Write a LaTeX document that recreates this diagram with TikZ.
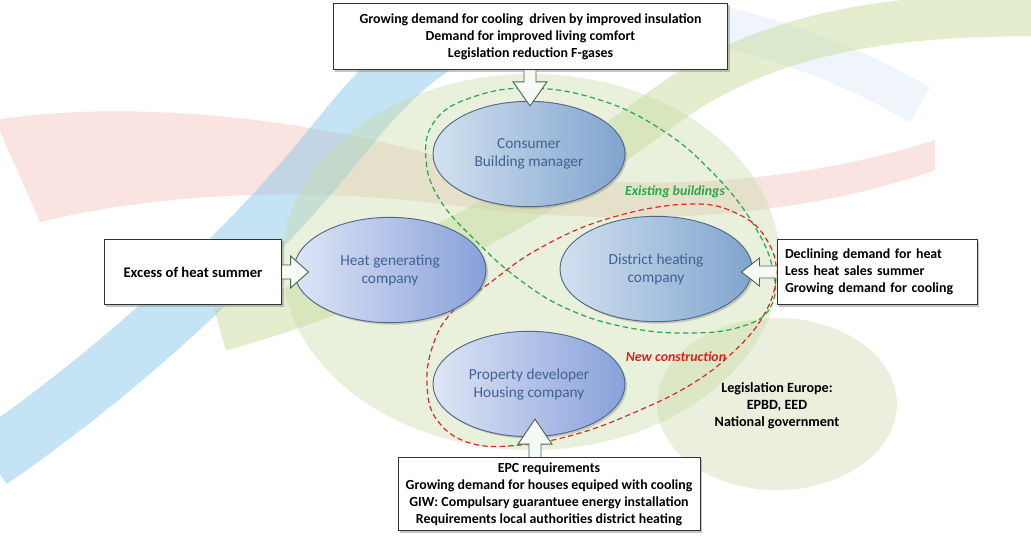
\documentclass[tikz,border=0pt]{standalone}
\usepackage{fontspec}
\setmainfont{Carlito}
\usetikzlibrary{positioning,shapes.geometric,shadows,calc}

\tikzset{
  actor/.style={ellipse, draw={rgb, 255:red, 84; green, 104; blue, 132}, line width=0.7pt,
    left color={rgb, 255:red, 210; green, 225; blue, 240}, right color={rgb, 255:red, 128; green, 164; blue, 206},
    minimum width=144pt, minimum height=79pt, align=center,
    text={rgb, 255:red, 64; green, 98; blue, 144}, font=\fontsize{11.5}{13.5}\selectfont,
    drop shadow={opacity=0.35, shadow xshift=1.5pt, shadow yshift=-1.5pt}},
  lavender/.style={left color={rgb, 255:red, 222; green, 229; blue, 246}, right color={rgb, 255:red, 136; green, 160; blue, 218}},
  infobox/.style={draw={rgb, 255:red, 50; green, 50; blue, 50}, fill=white, line width=0.7pt,
    font=\bfseries\fontsize{10.4}{12.75}\selectfont, align=center, inner sep=0pt,
    drop shadow={opacity=0.45, shadow xshift=1.5pt, shadow yshift=-1.5pt}},
  blockarrow/.style={draw={rgb, 255:red, 80; green, 100; blue, 85}, line width=0.7pt,
    fill={rgb, 255:red, 246; green, 250; blue, 246}, line join=miter},
  grouploop/.style={dashed, dash pattern=on 4pt off 2.5pt, line width=0.9pt},
  grouplabel/.style={font=\bfseries\itshape\fontsize{10.4}{12}\selectfont},
  band/.style={line width=#1, line cap=butt},
}

\begin{document}
\begin{tikzpicture}[x=0.75pt,y=0.75pt,yscale=-1,xscale=1]
\useasboundingbox (0,0) rectangle (1031,540);
\fill[white] (0,0) rectangle (1031,540);

% background bands
\fill[fill={rgb, 255:red, 236; green, 160; blue, 150}, fill opacity=0.28] (-5,120) .. controls (120,100) and (300,115) .. (450,160) .. controls (600,195) and (780,190) .. (935,140) -- (935,170) .. controls (780,225) and (600,225) .. (450,205) .. controls (300,185) and (150,195) .. (40,222) -- cycle;
\draw[band=44pt, draw={rgb, 255:red, 125; green, 195; blue, 235}, draw opacity=0.45] (-10,460) .. controls (120,370) and (240,260) .. (330,150) .. controls (370,100) and (400,65) .. (450,35);
\draw[band=30pt, draw={rgb, 255:red, 150; green, 190; blue, 230}, draw opacity=0.15] (700,22) .. controls (790,40) and (860,70) .. (920,105);
\draw[band=32pt, draw={rgb, 255:red, 180; green, 208; blue, 120}, draw opacity=0.35] (220,330) .. controls (400,280) and (540,200) .. (660,110) .. controls (760,35) and (880,15) .. (1031,15);

% green areas
\fill[fill={rgb, 255:red, 200; green, 218; blue, 166}, fill opacity=0.4] (531,262) ellipse [x radius=249, y radius=188];
\fill[fill={rgb, 255:red, 200; green, 218; blue, 166}, fill opacity=0.38] (777,404) ellipse [x radius=120, y radius=86];

% groups
\draw[grouploop, draw={rgb, 255:red, 40; green, 168; blue, 72}] plot[smooth cycle, tension=0.7] coordinates {(470,98) (530,88) (600,100) (662,130) (712,172) (752,222) (773,270) (770,308) (740,327) (690,333) (630,328) (570,310) (520,280) (475,240) (440,200) (426,160) (434,122)};
\draw[grouploop, draw={rgb, 255:red, 222; green, 42; blue, 36}] plot[smooth cycle, tension=0.7] coordinates {(690,204) (740,215) (768,242) (776,278) (762,318) (730,355) (690,385) (640,410) (580,433) (520,445) (470,443) (437,420) (427,385) (433,345) (452,312) (487,285) (540,248) (610,218)};

% actors
\node[actor] (consumer) at (529,154) {Consumer\\Building manager};
\node[actor, lavender] (heatco) at (390,270) {Heat generating\\company};
\node[actor] (district) at (656,269) {District heating\\company};
\node[actor, lavender] (developer) at (529,384) {Property developer\\Housing company};

% labels of the groups
\node[grouplabel, text={rgb, 255:red, 40; green, 168; blue, 72}] (existing) at (675,192) {Existing buildings};
\node[grouplabel, text={rgb, 255:red, 215; green, 35; blue, 30}] (newcon) at (676,357) {New construction};

% legislation
\node[font=\bfseries\fontsize{10.6}{12.75}\selectfont, align=center] (legis) at (777,406) {Legislation Europe:\\EPBD, EED\\National government};

% boxes
\node[infobox, minimum width=296pt, minimum height=50pt] (topbox) at (530.5,36.5) {Growing demand for cooling\ \ driven by improved insulation\\Demand for improved living comfort\\Legislation reduction F-gases};
\node[infobox, minimum width=133pt, minimum height=49pt, font=\bfseries\fontsize{11}{13}\selectfont] (leftbox) at (193,272) {Excess of heat summer};
\node[infobox, minimum width=150pt, minimum height=49pt, align=left, text width=138pt, inner xsep=6pt] (rightbox) at (877,272) {Declining demand for heat\\Less heat sales summer\\Growing demand for cooling};
\node[infobox, minimum width=226.5pt, minimum height=55pt] (botbox) at (549,494) {EPC requirements\\Growing demand for houses equiped with cooling\\GIW: Compulsary guarantuee energy installation\\Requirements local authorities district heating};

% block arrows
\coordinate (ttip) at ($(consumer.north)+(1,5)$);
\coordinate (tend) at (ttip |- topbox.south);
\draw[blockarrow] ($(tend)+(-6,0)$) -- ($(ttip)+(-6,-24)$) -- ($(ttip)+(-17,-24)$) -- (ttip) -- ($(ttip)+(17,-24)$) -- ($(ttip)+(6,-24)$) -- ($(tend)+(6,0)$);

\coordinate (ltip) at ($(heatco.west)+(15,2)$);
\coordinate (lend) at (ltip -| leftbox.east);
\draw[blockarrow] ($(lend)+(0,-7)$) -- ($(ltip)+(-18,-7)$) -- ($(ltip)+(-18,-16)$) -- (ltip) -- ($(ltip)+(-18,16)$) -- ($(ltip)+(-18,7)$) -- ($(lend)+(0,7)$);

\coordinate (rtip) at ($(district.east)+(-11,3)$);
\coordinate (rend) at (rtip -| rightbox.west);
\draw[blockarrow] ($(rend)+(0,-6)$) -- ($(rtip)+(18,-6)$) -- ($(rtip)+(18,-14)$) -- (rtip) -- ($(rtip)+(18,14)$) -- ($(rtip)+(18,6)$) -- ($(rend)+(0,6)$);

\coordinate (btip) at ($(developer.south)+(6,-18)$);
\coordinate (bend) at (btip |- botbox.north);
\draw[blockarrow] ($(bend)+(-6,0)$) -- ($(btip)+(-6,25)$) -- ($(btip)+(-17,25)$) -- (btip) -- ($(btip)+(17,25)$) -- ($(btip)+(6,25)$) -- ($(bend)+(6,0)$);

\end{tikzpicture}
\end{document}
